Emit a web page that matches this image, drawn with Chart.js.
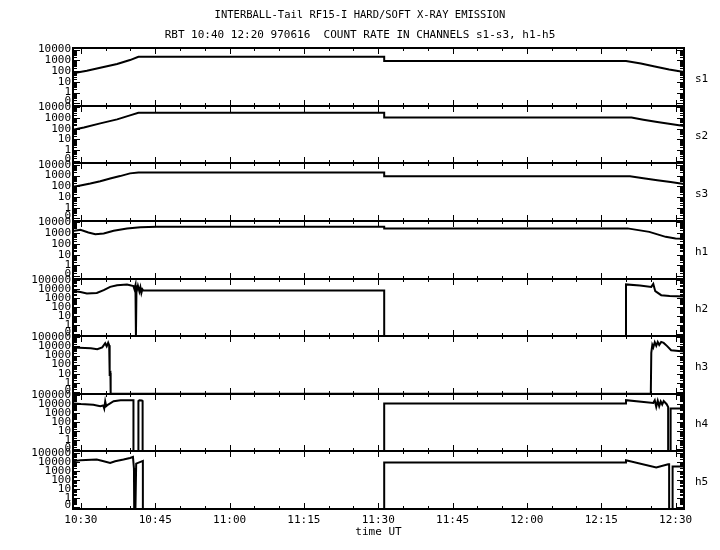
<!DOCTYPE html>
<html>
<head>
<meta charset="utf-8">
<title>INTERBALL-Tail RF15-I</title>
<script src="https://cdn.jsdelivr.net/npm/chart.js@4.4.1/dist/chart.umd.min.js"></script>
<style>
    html, body { margin: 0; padding: 0; background: #fff; }
    #wrap { width: 720px; height: 550px; }
</style>
</head>
<body>
<div id="wrap"><canvas id="chart" width="720" height="550"></canvas></div>
<script>
// time axis, minutes after 10:00 UT
const xMin = 28.4, xMax = 151.7;
const xTickMinutes = [30, 45, 60, 75, 90, 105, 120, 135, 150];
const xTickLabels = ['10:30', '10:45', '11:00', '11:15', '11:30', '11:45', '12:00', '12:15', '12:30'];

// count rate axes (log). zero counts sit on the floor of each panel
const yFloor = 0.06;
const zeroTick = 0.15;
const sTicks = [zeroTick, 1, 10, 100, 1000, 10000];
const hTicks = [zeroTick, 1, 10, 100, 1000, 10000, 100000];
const sMax = 14000, hMax = 140000;

const panelNames = ['s1', 's2', 's3', 'h1', 'h2', 'h3', 'h4', 'h5'];

const s1Time = [28.4, 31.2, 33.9, 37.3, 39.9, 41.6, 91.2, 91.2, 140.0, 143.0, 145.8, 148.7, 151.7];
const s1Rate = [61, 106, 200, 447, 1050, 2140, 2140, 850, 850, 500, 260, 138, 80];

const s2Time = [28.4, 30.6, 33.9, 37.3, 39.9, 41.6, 91.2, 91.2, 141.1, 143.5, 146.3, 149.0, 151.7];
const s2Rate = [81, 131, 310, 730, 1730, 3000, 3000, 1100, 1100, 690, 420, 270, 175];

const s3Time = [28.4, 29.9, 31.9, 33.9, 35.9, 37.9, 39.9, 41.6, 91.2, 91.2, 140.8, 143.5, 146.3, 149.0, 151.7];
const s3Rate = [89, 120, 185, 300, 540, 890, 1600, 1950, 1950, 850, 850, 570, 370, 245, 160];

const h1Time = [28.4, 29.9, 31.5, 32.9, 34.6, 36.6, 39.3, 42.0, 45.3, 91.2, 91.2, 140.3, 144.7, 148.0, 150.0, 151.7];
const h1Rate = [1550, 2040, 1170, 810, 930, 1660, 2750, 3630, 4000, 4000, 2800, 2800, 1320, 455, 320, 300];

const h2Time = [28.4, 29.9, 31.2, 33.2, 34.6, 35.9, 37.3, 39.3, 40.6, 40.8, 41.0, 41.1, 41.2, 41.5, 41.8, 42.0, 42.2, 42.4, 42.6,
    91.2, 91.2, 140.0, 140.0, 142.8, 145.1, 145.5, 145.9, 147.1, 148.8, 151.7];
const h2Rate = [6000, 4400, 3100, 3500, 7200, 16600, 25700, 31000, 20000, 9000, 25000, 0, 4000, 22000, 5000, 15000, 3500, 9000, 6500,
    6500, 0, 0, 31000, 24000, 16600, 35000, 5600, 2000, 1600, 1400];

const h3Time = [28.4, 32.0, 33.3, 34.3, 34.9, 35.2, 35.5, 35.7, 35.75, 35.8, 35.85, 35.95, 36.0,
    145.0, 145.1, 145.3, 145.5, 145.8, 146.1, 146.4, 146.7, 147.1, 147.6, 148.3, 149.1, 151.7];
const h3Rate = [7800, 6500, 5000, 8000, 23000, 10500, 26000, 14000, 30, 500, 10, 12, 0,
    0, 2000, 15000, 8000, 30000, 12000, 32000, 15000, 32000, 25000, 11000, 3900, 2800];

const h4Time = [28.4, 30.0, 32.5, 33.9, 34.5, 34.7, 34.9, 35.1, 35.5, 36.6, 38.0, 40.6, 40.6, 41.6, 41.6, 41.8, 42.3, 42.45, 42.45,
    91.2, 91.2, 140.0, 140.0, 145.5, 145.8, 146.1, 146.4, 146.7, 147.0, 147.3, 147.6, 148.2, 148.5, 148.5, 149.0, 149.0, 151.7];
const h4Rate = [11700, 10000, 8500, 5900, 7000, 3200, 20000, 6000, 9000, 21000, 27000, 27000, 0, 0, 22000, 27000, 25000, 22000, 0,
    0, 11700, 11700, 27000, 13600, 27000, 5000, 24000, 6000, 20000, 9000, 22000, 9800, 4900, 0, 0, 3200, 3200];

const h5Time = [28.4, 29.9, 33.2, 34.6, 35.9, 36.9, 38.6, 39.9, 40.5, 40.7, 40.75, 40.9, 41.0, 41.15, 42.5, 42.5,
    91.2, 91.2, 140.0, 140.0, 146.1, 148.5, 148.7, 148.7, 149.4, 149.4, 151.7];
const h5Rate = [11500, 14800, 17400, 11500, 7400, 11500, 17400, 26300, 33900, 1800, 0, 2000, 0, 6300, 12300, 0,
    0, 8000, 8000, 14700, 2300, 5300, 5300, 0, 0, 3000, 3000];

const series = [
    { name: 's1', time: s1Time, rate: s1Rate },
    { name: 's2', time: s2Time, rate: s2Rate },
    { name: 's3', time: s3Time, rate: s3Rate },
    { name: 'h1', time: h1Time, rate: h1Rate },
    { name: 'h2', time: h2Time, rate: h2Rate },
    { name: 'h3', time: h3Time, rate: h3Rate },
    { name: 'h4', time: h4Time, rate: h4Rate },
    { name: 'h5', time: h5Time, rate: h5Rate }
];

const mono = '"DejaVu Sans Mono", monospace';
Chart.defaults.color = '#000';
Chart.defaults.font.family = mono;
Chart.defaults.font.size = 11;

// frames, tick marks on every panel edge and channel names on the right
const framePlugin = {
    id: 'frames',
    afterDatasetsDraw(chart) {
        const ctx = chart.ctx;
        const xs = chart.scales.x;
        const left = chart.chartArea.left, right = chart.chartArea.right;
        ctx.save();
        ctx.strokeStyle = '#000';
        ctx.fillStyle = '#000';

        function seg(x1, y1, x2, y2) {
            ctx.beginPath();
            ctx.moveTo(x1, y1);
            ctx.lineTo(x2, y2);
            ctx.stroke();
        }

        panelNames.forEach(name => {
            const ys = chart.scales[name];
            const top = Math.round(ys.top), bottom = Math.round(ys.bottom);

            ctx.lineWidth = 2;
            ctx.strokeRect(left, top, right - left, bottom - top);

            ctx.lineWidth = 1;
            for (let m = 30; m <= 150; m += 5) {
                const px = Math.round(xs.getPixelForValue(m)) + 0.5;
                const len = m % 15 === 0 ? 6 : 3;
                seg(px, top, px, top + len);
                seg(px, bottom, px, bottom - len);
            }

            for (let e = -1; e <= 5; e++) {
                for (let k = 1; k <= 9; k++) {
                    const v = k * Math.pow(10, e);
                    if (v < ys.min || v > ys.max) continue;
                    const py = Math.round(ys.getPixelForValue(v)) + 0.5;
                    const len = k === 1 ? 7 : 4;
                    seg(left, py, left + len, py);
                    seg(right, py, right - len, py);
                }
            }

            ctx.font = '11px ' + mono;
            ctx.textAlign = 'left';
            ctx.textBaseline = 'middle';
            ctx.fillText(name, right + 11, (top + bottom) / 2 + 2);
        });
        ctx.restore();
    }
};

// stacked y axes: the last one defined ends up on top, so build them bottom-up
const scales = {
    x: {
        type: 'linear',
        min: xMin,
        max: xMax,
        grid: { display: false, drawTicks: false },
        border: { display: false },
        afterBuildTicks: s => { s.ticks = xTickMinutes.map(v => ({ value: v })); },
        ticks: {
            autoSkip: false,
            maxRotation: 0,
            padding: 5,
            callback: (v, i) => xTickLabels[i]
        },
        title: { display: true, text: 'time UT', padding: { top: 0, bottom: 11 } },
        // keep room on the right for the channel names
        afterFit: s => { s.height = 41; s.paddingLeft = 0; s.paddingRight = 36; }
    }
};
panelNames.slice().reverse().forEach(name => {
    const hard = name !== 'h1' && name[0] === 'h';
    const tickVals = hard ? hTicks : sTicks;
    scales[name] = {
        type: 'logarithmic',
        position: 'left',
        stack: 'panels',
        stackWeight: 1,
        min: yFloor,
        max: hard ? hMax : sMax,
        grid: { display: false, drawTicks: false },
        border: { display: false },
        afterBuildTicks: s => { s.ticks = tickVals.map(v => ({ value: v })); },
        ticks: {
            autoSkip: false,
            padding: 2,
            callback: v => v < 1 ? '0' : String(v)
        },
        afterFit: s => { s.width = 73; s.paddingTop = 0; s.paddingBottom = 0; }
    };
});

new Chart(document.getElementById('chart'), {
    type: 'line',
    data: {
        datasets: series.map(s => ({
            label: s.name,
            xAxisID: 'x',
            yAxisID: s.name,
            data: s.time.map((m, i) => ({ x: m, y: Math.max(s.rate[i], yFloor) })),
            borderColor: '#000',
            borderWidth: 2,
            pointRadius: 0,
            tension: 0,
            fill: false
        }))
    },
    options: {
        responsive: false,
        animation: false,
        devicePixelRatio: 1,
        layout: { padding: 0 },
        plugins: {
            legend: { display: false },
            tooltip: { enabled: false },
            title: {
                display: true,
                text: 'INTERBALL-Tail RF15-I HARD/SOFT X-RAY EMISSION',
                font: { family: mono, size: 10.5, weight: 'normal', lineHeight: 20 / 10.5 },
                padding: { top: 5, bottom: 0 }
            },
            subtitle: {
                display: true,
                text: 'RBT 10:40 12:20 970616  COUNT RATE IN CHANNELS s1-s3, h1-h5',
                color: '#000',
                font: { family: mono, size: 11, weight: 'normal', lineHeight: 20 / 11 },
                padding: { top: 0, bottom: 3 }
            }
        },
        scales: scales
    },
    plugins: [framePlugin]
});
</script>
</body>
</html>
